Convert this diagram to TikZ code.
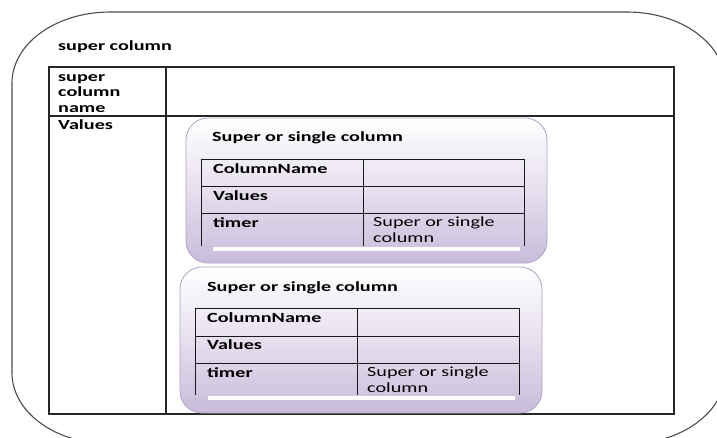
\documentclass[tikz,border=0pt]{standalone}
\usepackage{fontspec}
\setmainfont{Carlito}[FakeStretch=1.44]
\begin{document}
\begin{tikzpicture}[x=1pt,y=-1pt,
  lbl/.style={font=\fontsize{14}{15.5}\selectfont\bfseries, inner sep=0pt, anchor=base west, align=left},
  txt/.style={font=\fontsize{14}{15.5}\selectfont, inner sep=0pt, anchor=base west, align=left},
  grid/.style={draw=black!85, line width=1.1pt},
  ingrid/.style={draw=black!90, line width=0.9pt},
  panel/.style={rounded corners=22pt, top color=white, bottom color=lav, middle color=lavmid},
  panelrim/.style={draw=lavrim, line width=0.8pt, rounded corners=22pt},
  whitebar/.style={draw=white, line width=4pt}]
\definecolor{lav}{HTML}{C8BCDA}
\definecolor{lavmid}{HTML}{E6DFEE}
\definecolor{lavrim}{HTML}{AFA2C4}
\useasboundingbox (0,0) rectangle (717,437);
\clip (0,0) rectangle (717,437);

% outer rounded frame (runs past the right and bottom edges)
\draw[black!70, line width=1.1pt]
  (110,12) -- (627,12) arc[start angle=-90, end angle=0, x radius=98, y radius=71]
  -- (725,373) arc[start angle=0, end angle=90, x radius=98, y radius=71]
  -- (110,444) arc[start angle=90, end angle=180, x radius=98, y radius=71]
  -- (12,83) arc[start angle=180, end angle=270, x radius=98, y radius=71] -- cycle;

\node[lbl] (title) at (58,50) {super column};

% outer table
\draw[grid] (49,67) rectangle (674,414);
\draw[grid] (166,67) -- (166,414);
\draw[grid] (49,116) -- (674,116);
% multi-line labels are placed by the baseline of their last line
\node[lbl] (scname) at (58,112) {super\\column\\name};
\node[lbl] (vals) at (58,129) {Values};

% first nested panel
\shade[panel] (186,118) rectangle (547,263);
\draw[panelrim] (186,118) rectangle (547,263);
\node[lbl] (pa) at (212,141) {Super or single column};
\draw[ingrid] (201,246) -- (201,159) -- (524,159) -- (524,246);
\draw[ingrid] (201,186) -- (524,186);
\draw[ingrid] (201,213) -- (524,213);
\draw[ingrid] (363,159) -- (363,246);
\draw[whitebar] (213,249) -- (520,249);
\node[lbl] (pacn) at (213,173) {ColumnName};
\node[lbl] (pava) at (213,200) {Values};
\node[lbl] (pati) at (213,227) {timer};
\node[txt] (pasub) at (373,242) {Super or single\\column};

% second nested panel
\shade[panel] (180,267) rectangle (542,413);
\draw[panelrim] (180,267) rectangle (542,413);
\node[lbl] (pb) at (207,291) {Super or single column};
\draw[ingrid] (195,395) -- (195,308) -- (519,308) -- (519,395);
\draw[ingrid] (195,336) -- (519,336);
\draw[ingrid] (195,363) -- (519,363);
\draw[ingrid] (357,308) -- (357,395);
\draw[whitebar] (208,398) -- (515,398);
\node[lbl] (pbcn) at (207,322) {ColumnName};
\node[lbl] (pbva) at (207,349) {Values};
\node[lbl] (pbti) at (207,377) {timer};
\node[txt] (pbsub) at (367,392) {Super or single\\column};
\end{tikzpicture}
\end{document}
